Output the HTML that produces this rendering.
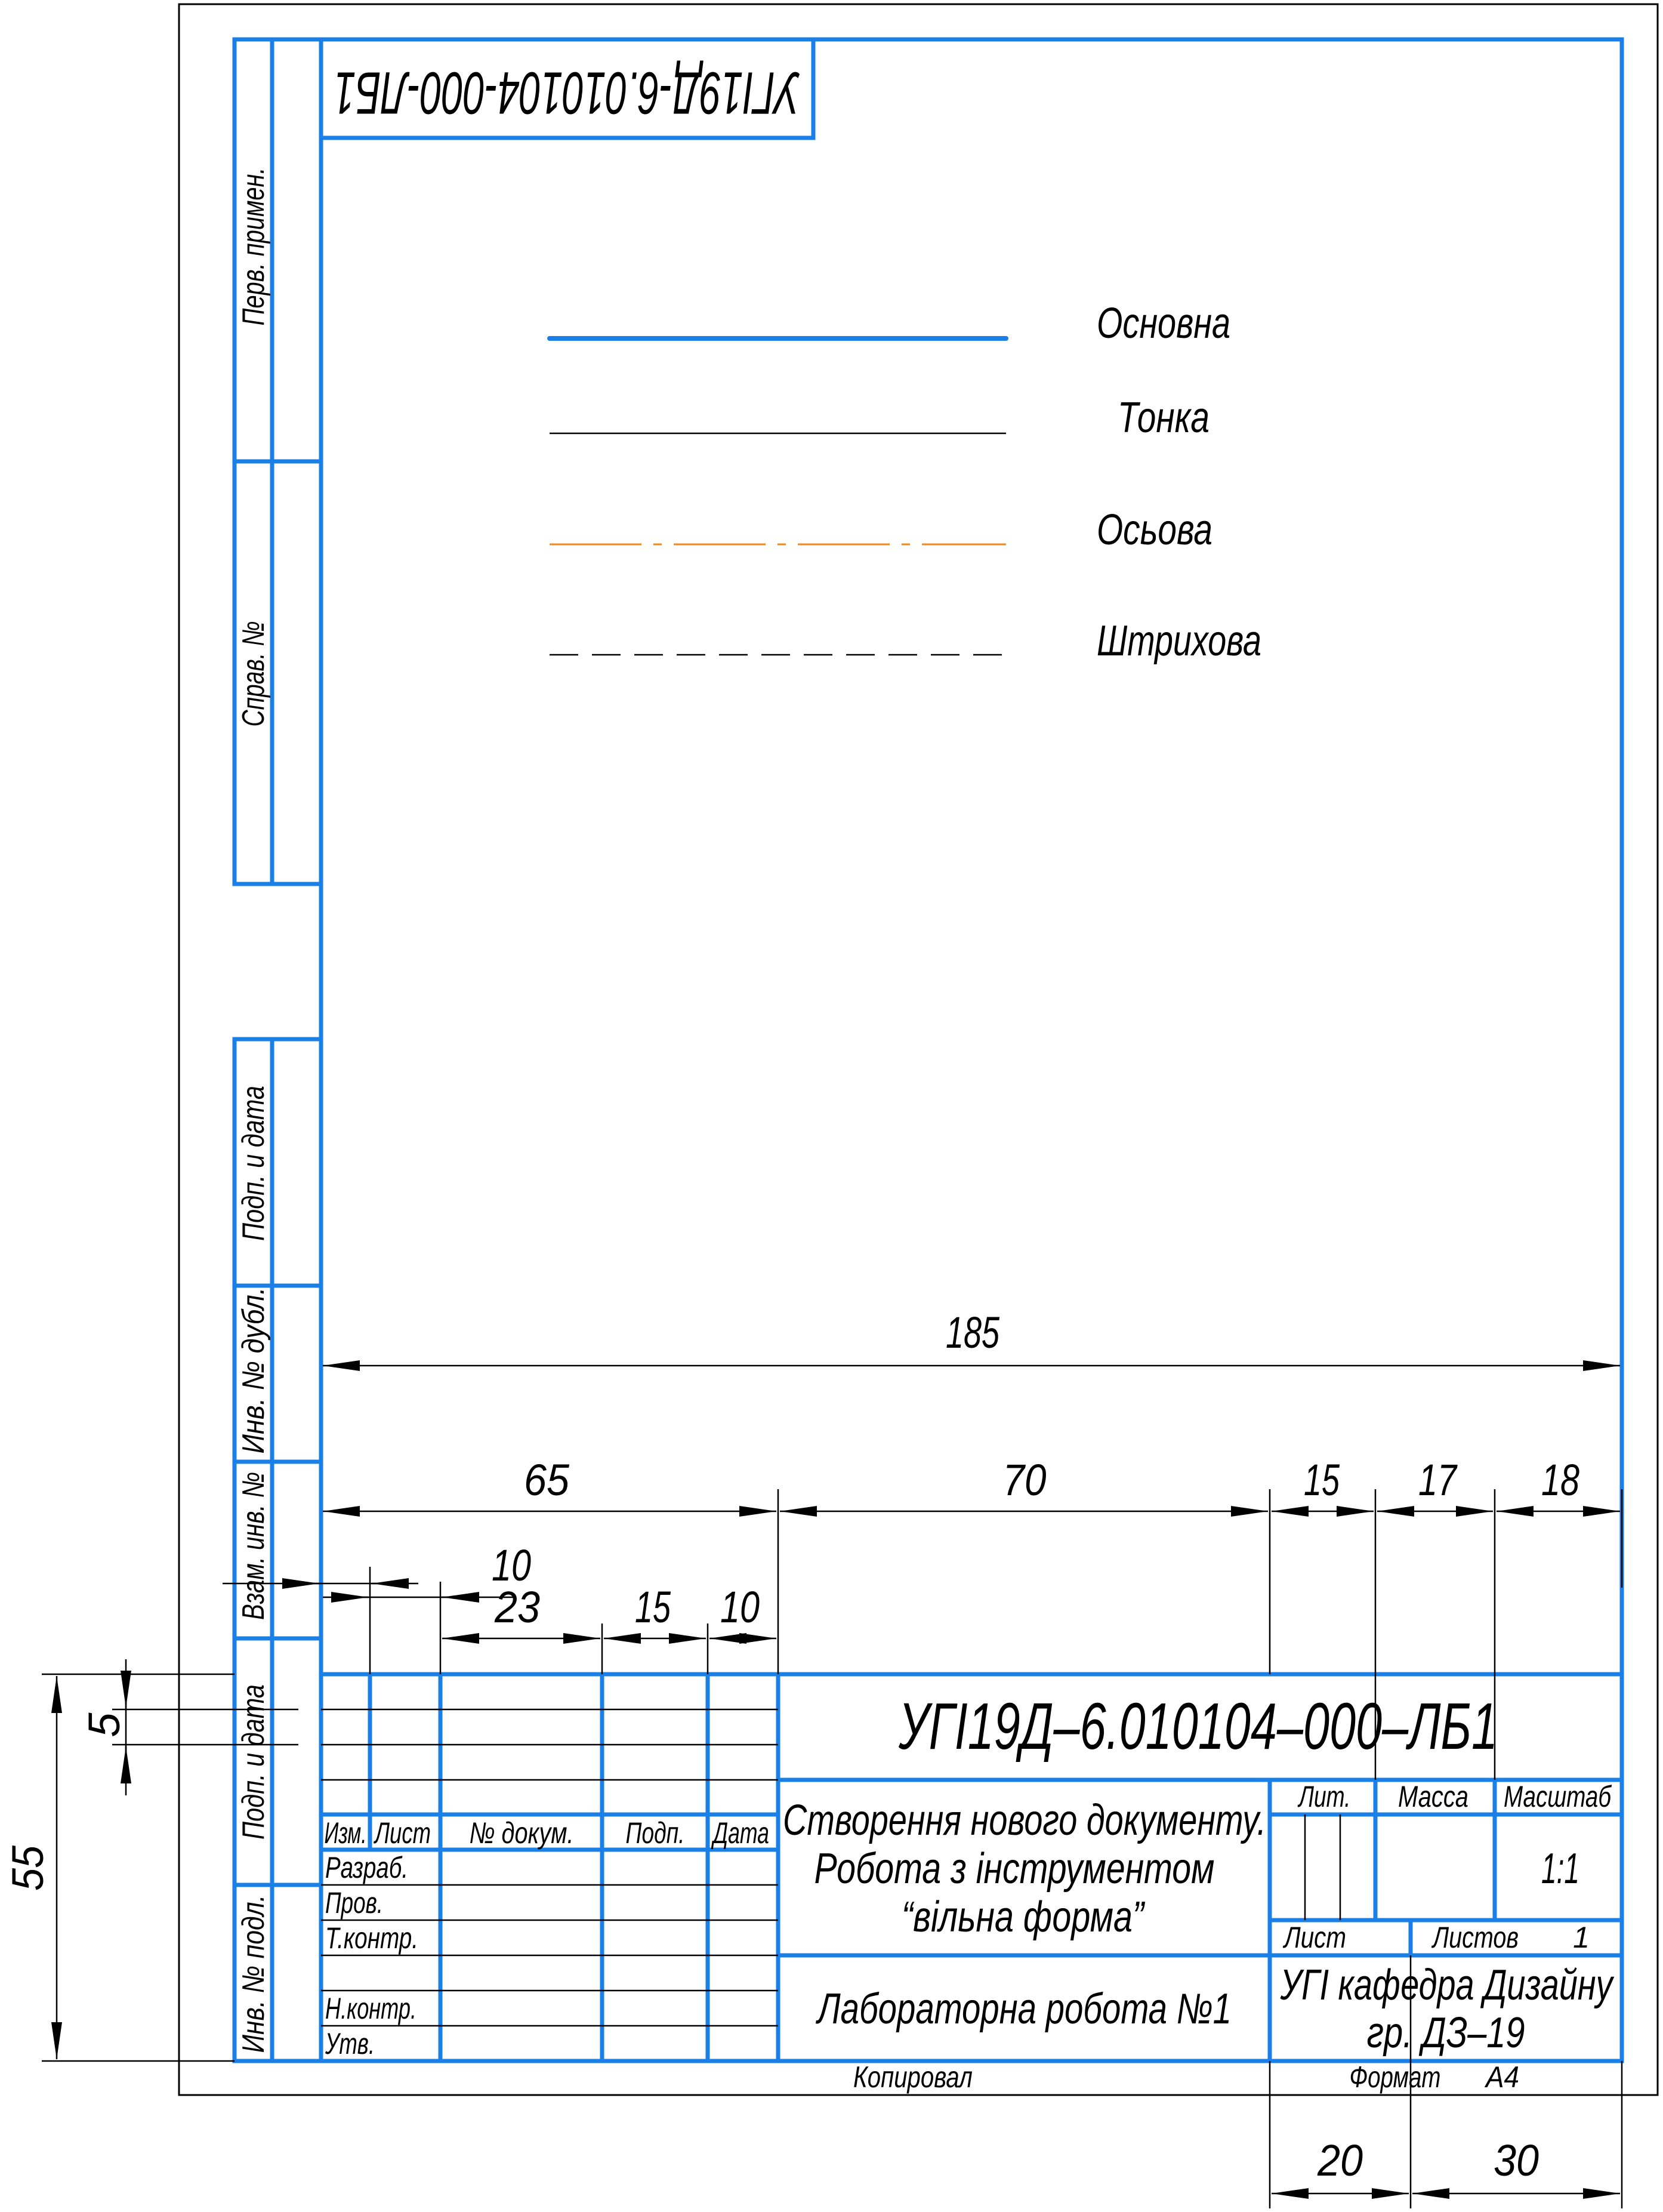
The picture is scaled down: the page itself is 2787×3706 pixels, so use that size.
<!DOCTYPE html>
<html><head><meta charset="utf-8"><style>
html,body{margin:0;padding:0;background:#fff}
svg{display:block}
text{font-family:"Liberation Sans Narrow","Liberation Sans","DejaVu Sans",sans-serif;font-style:italic;fill:#000}
</style></head><body>
<svg width="2787" height="3706" viewBox="0 0 2787 3706" xmlns="http://www.w3.org/2000/svg">
<defs>
<marker id="a" markerUnits="userSpaceOnUse" markerWidth="70" markerHeight="24" refX="70" refY="12" orient="auto-start-reverse" viewBox="0 0 70 24">
<path d="M70,12 L8,3 L8,21 Z" fill="#000"/>
</marker>
</defs>
<rect x="0" y="0" width="2787" height="3706" fill="#fff"/>
<rect x="300" y="7" width="2478" height="3503" fill="none" stroke="#000" stroke-width="3"/>

<g stroke="#1a7fe6" stroke-width="7" fill="none" stroke-linecap="square">
<rect x="538" y="66" width="2180" height="3387"/>
<rect x="538" y="66" width="825" height="165"/>
<rect x="393" y="66" width="145" height="1415"/>
<line x1="456" y1="66" x2="456" y2="1481"/>
<line x1="393" y1="773" x2="538" y2="773"/>
<rect x="393" y="1741" width="145" height="1712"/>
<line x1="456" y1="1741" x2="456" y2="3453"/>
<line x1="393" y1="2154" x2="538" y2="2154"/>
<line x1="393" y1="2449" x2="538" y2="2449"/>
<line x1="393" y1="2745" x2="538" y2="2745"/>
<line x1="393" y1="3158" x2="538" y2="3158"/>
<line x1="538" y1="2805" x2="2718" y2="2805"/>
<line x1="620" y1="2805" x2="620" y2="3099"/>
<line x1="738" y1="2805" x2="738" y2="3453"/>
<line x1="1009" y1="2805" x2="1009" y2="3453"/>
<line x1="1186" y1="2805" x2="1186" y2="3453"/>
<line x1="1304" y1="2805" x2="1304" y2="3453"/>
<line x1="538" y1="3040" x2="1304" y2="3040"/>
<line x1="538" y1="3099" x2="1304" y2="3099"/>
<line x1="1304" y1="2982" x2="2718" y2="2982"/>
<line x1="1304" y1="3276" x2="2718" y2="3276"/>
<line x1="2128" y1="2982" x2="2128" y2="3453"/>
<line x1="2128" y1="3040" x2="2718" y2="3040"/>
<line x1="2128" y1="3217" x2="2718" y2="3217"/>
<line x1="2305" y1="2982" x2="2305" y2="3217"/>
<line x1="2505" y1="2982" x2="2505" y2="3217"/>
<line x1="2364" y1="3217" x2="2364" y2="3276"/>
</g>
<g stroke="#000" stroke-width="2.5">
<line x1="538" y1="2864" x2="1304" y2="2864"/>
<line x1="538" y1="2923" x2="1304" y2="2923"/>
<line x1="538" y1="2982" x2="1304" y2="2982"/>
<line x1="538" y1="3158" x2="1304" y2="3158"/>
<line x1="538" y1="3217" x2="1304" y2="3217"/>
<line x1="538" y1="3276" x2="1304" y2="3276"/>
<line x1="538" y1="3335" x2="1304" y2="3335"/>
<line x1="538" y1="3394" x2="1304" y2="3394"/>
<line x1="2187" y1="3040" x2="2187" y2="3217"/>
<line x1="2246" y1="3040" x2="2246" y2="3217"/>
</g>

<line x1="921" y1="567" x2="1686" y2="567" stroke="#1a7fe6" stroke-width="8" stroke-linecap="round"/>
<line x1="921" y1="726" x2="1686" y2="726" stroke="#000" stroke-width="2.5"/>
<line x1="921" y1="912" x2="1686" y2="912" stroke="#f08a1c" stroke-width="3" stroke-dasharray="154 20 14 20"/>
<line x1="921" y1="1097" x2="1686" y2="1097" stroke="#000" stroke-width="2.5" stroke-dasharray="48 23"/>
<g font-size="72" lengthAdjust="spacingAndGlyphs">
<text x="1838" y="566" textLength="224" lengthAdjust="spacingAndGlyphs">Основна</text>
<text x="1873" y="724" textLength="154" lengthAdjust="spacingAndGlyphs">Тонка</text>
<text x="1838" y="912" textLength="194" lengthAdjust="spacingAndGlyphs">Осьова</text>
<text x="1838" y="1098" textLength="276" lengthAdjust="spacingAndGlyphs">Штрихова</text>
</g>

<text x="950" y="148" font-size="100" text-anchor="middle" transform="rotate(180 950 148)" dominant-baseline="middle" textLength="780" lengthAdjust="spacingAndGlyphs">УГІ19Д-6.010104-000-ЛБ1</text>

<g font-size="52" text-anchor="middle">
<text transform="translate(442 413) rotate(-90)" textLength="265" lengthAdjust="spacingAndGlyphs">Перв. примен.</text>
<text transform="translate(442 1129) rotate(-90)" textLength="177" lengthAdjust="spacingAndGlyphs">Справ. №</text>
<text transform="translate(442 1949) rotate(-90)" textLength="260" lengthAdjust="spacingAndGlyphs">Подп. и дата</text>
<text transform="translate(442 2296) rotate(-90)" textLength="279" lengthAdjust="spacingAndGlyphs">Инв. № дубл.</text>
<text transform="translate(442 2590) rotate(-90)" textLength="248" lengthAdjust="spacingAndGlyphs">Взам. инв. №</text>
<text transform="translate(442 2952) rotate(-90)" textLength="260" lengthAdjust="spacingAndGlyphs">Подп. и дата</text>
<text transform="translate(442 3307) rotate(-90)" textLength="265" lengthAdjust="spacingAndGlyphs">Инв. № подл.</text>
</g>

<g stroke="#000" stroke-width="2.5" fill="none">
<line x1="541" y1="2288" x2="2715" y2="2288" marker-start="url(#a)" marker-end="url(#a)"/>
<line x1="541" y1="2532" x2="1301" y2="2532" marker-start="url(#a)" marker-end="url(#a)"/>
<line x1="1307" y1="2532" x2="2125" y2="2532" marker-start="url(#a)" marker-end="url(#a)"/>
<line x1="2131" y1="2532" x2="2302" y2="2532" marker-start="url(#a)" marker-end="url(#a)"/>
<line x1="2308" y1="2532" x2="2502" y2="2532" marker-start="url(#a)" marker-end="url(#a)"/>
<line x1="2508" y1="2532" x2="2715" y2="2532" marker-start="url(#a)" marker-end="url(#a)"/>
<line x1="2128" y1="2495" x2="2128" y2="2805"/>
<line x1="2305" y1="2495" x2="2305" y2="2982"/>
<line x1="2505" y1="2495" x2="2505" y2="2982"/>
<line x1="1304" y1="2495" x2="1304" y2="2805"/>
<line x1="2718" y1="2495" x2="2718" y2="2660"/>
<line x1="373" y1="2653" x2="701" y2="2653"/>
<line x1="535" y1="2653" x2="475" y2="2653" marker-start="url(#a)"/>
<line x1="623" y1="2653" x2="683" y2="2653" marker-start="url(#a)"/>
<line x1="620" y1="2625" x2="620" y2="2805"/>
<line x1="541" y1="2676" x2="860" y2="2676"/>
<line x1="617" y1="2676" x2="557" y2="2676" marker-start="url(#a)"/>
<line x1="741" y1="2676" x2="801" y2="2676" marker-start="url(#a)"/>
<line x1="738" y1="2650" x2="738" y2="2805"/>
<line x1="741" y1="2745" x2="1006" y2="2745" marker-start="url(#a)" marker-end="url(#a)"/>
<line x1="1012" y1="2745" x2="1183" y2="2745" marker-start="url(#a)" marker-end="url(#a)"/>
<line x1="1189" y1="2745" x2="1301" y2="2745" marker-start="url(#a)" marker-end="url(#a)"/>
<line x1="1009" y1="2720" x2="1009" y2="2805"/>
<line x1="1186" y1="2720" x2="1186" y2="2805"/>
<line x1="70" y1="2805" x2="393" y2="2805"/>
<line x1="70" y1="3453" x2="393" y2="3453"/>
<line x1="95" y1="2808" x2="95" y2="3450" marker-start="url(#a)" marker-end="url(#a)"/>
<line x1="188" y1="2864" x2="500" y2="2864"/>
<line x1="188" y1="2923" x2="500" y2="2923"/>
<line x1="211" y1="2780" x2="211" y2="3008"/>
<line x1="211" y1="2861" x2="211" y2="2801" marker-start="url(#a)"/>
<line x1="211" y1="2926" x2="211" y2="2986" marker-start="url(#a)"/>
<line x1="2128" y1="3453" x2="2128" y2="3700"/>
<line x1="2364" y1="3276" x2="2364" y2="3700"/>
<line x1="2718" y1="3453" x2="2718" y2="3700"/>
<line x1="2131" y1="3675" x2="2361" y2="3675" marker-start="url(#a)" marker-end="url(#a)"/>
<line x1="2367" y1="3675" x2="2715" y2="3675" marker-start="url(#a)" marker-end="url(#a)"/>
</g>
<g font-size="74" text-anchor="middle">
<text x="1630" y="2258" textLength="90" lengthAdjust="spacingAndGlyphs">185</text>
<text x="916" y="2505" textLength="76" lengthAdjust="spacingAndGlyphs">65</text>
<text x="1717" y="2505" textLength="73" lengthAdjust="spacingAndGlyphs">70</text>
<text x="2215" y="2505" textLength="60" lengthAdjust="spacingAndGlyphs">15</text>
<text x="2409" y="2505" textLength="64" lengthAdjust="spacingAndGlyphs">17</text>
<text x="2615" y="2505" textLength="64" lengthAdjust="spacingAndGlyphs">18</text>
<text x="857" y="2648" textLength="66" lengthAdjust="spacingAndGlyphs">10</text>
<text x="867" y="2718" textLength="76" lengthAdjust="spacingAndGlyphs">23</text>
<text x="1094" y="2718" textLength="60" lengthAdjust="spacingAndGlyphs">15</text>
<text x="1240" y="2718" textLength="66" lengthAdjust="spacingAndGlyphs">10</text>
<text x="2246" y="3645" textLength="76" lengthAdjust="spacingAndGlyphs">20</text>
<text x="2541" y="3645" textLength="76" lengthAdjust="spacingAndGlyphs">30</text>
<text transform="translate(72 3130) rotate(-90)" textLength="76" lengthAdjust="spacingAndGlyphs">55</text>
<text transform="translate(200 2890) rotate(-90)">5</text>
</g>

<text x="2008" y="2930" font-size="110" text-anchor="middle" textLength="1004" lengthAdjust="spacingAndGlyphs">УГІ19Д–6.010104–000–ЛБ1</text>
<g font-size="72" text-anchor="middle">
<text x="1717" y="3074" textLength="810" lengthAdjust="spacingAndGlyphs">Створення нового документу.</text>
<text x="1700" y="3155" textLength="671" lengthAdjust="spacingAndGlyphs">Робота з інструментом</text>
<text x="1714" y="3236" textLength="406" lengthAdjust="spacingAndGlyphs">“вільна форма”</text>
<text x="1717" y="3390" textLength="694" lengthAdjust="spacingAndGlyphs">Лабораторна робота №1</text>
<text x="2424" y="3350" textLength="557" lengthAdjust="spacingAndGlyphs">УГІ кафедра Дизайну</text>
<text x="2423" y="3430" textLength="265" lengthAdjust="spacingAndGlyphs">гр. ДЗ–19</text>
<text x="2615" y="3155" textLength="64" lengthAdjust="spacingAndGlyphs">1:1</text>
</g>
<g font-size="50" text-anchor="middle">
<text x="2220" y="3027" textLength="87" lengthAdjust="spacingAndGlyphs">Лит.</text>
<text x="2402" y="3027" textLength="118" lengthAdjust="spacingAndGlyphs">Масса</text>
<text x="2610" y="3027" textLength="180" lengthAdjust="spacingAndGlyphs">Масштаб</text>
<text x="2204" y="3263" textLength="104" lengthAdjust="spacingAndGlyphs">Лист</text>
<text x="2473" y="3263" textLength="144" lengthAdjust="spacingAndGlyphs">Листов</text>
<text x="2650" y="3263">1</text>
<text x="579" y="3088" textLength="71" lengthAdjust="spacingAndGlyphs">Изм.</text>
<text x="675" y="3088" textLength="94" lengthAdjust="spacingAndGlyphs">Лист</text>
<text x="874" y="3088" textLength="175" lengthAdjust="spacingAndGlyphs">№ докум.</text>
<text x="1098" y="3088" textLength="99" lengthAdjust="spacingAndGlyphs">Подп.</text>
<text x="1242" y="3088" textLength="94" lengthAdjust="spacingAndGlyphs">Дата</text>
<text x="1530" y="3497" textLength="200" lengthAdjust="spacingAndGlyphs">Копировал</text>
<text x="2338" y="3497" textLength="153" lengthAdjust="spacingAndGlyphs">Формат</text>
<text x="2518" y="3497" textLength="56" lengthAdjust="spacingAndGlyphs">А4</text>
</g>
<g font-size="50">
<text x="545" y="3146" textLength="139" lengthAdjust="spacingAndGlyphs">Разраб.</text>
<text x="545" y="3205" textLength="97" lengthAdjust="spacingAndGlyphs">Пров.</text>
<text x="545" y="3264" textLength="156" lengthAdjust="spacingAndGlyphs">Т.контр.</text>
<text x="545" y="3382" textLength="153" lengthAdjust="spacingAndGlyphs">Н.контр.</text>
<text x="545" y="3441" textLength="83" lengthAdjust="spacingAndGlyphs">Утв.</text>
</g>
</svg>
</body></html>
